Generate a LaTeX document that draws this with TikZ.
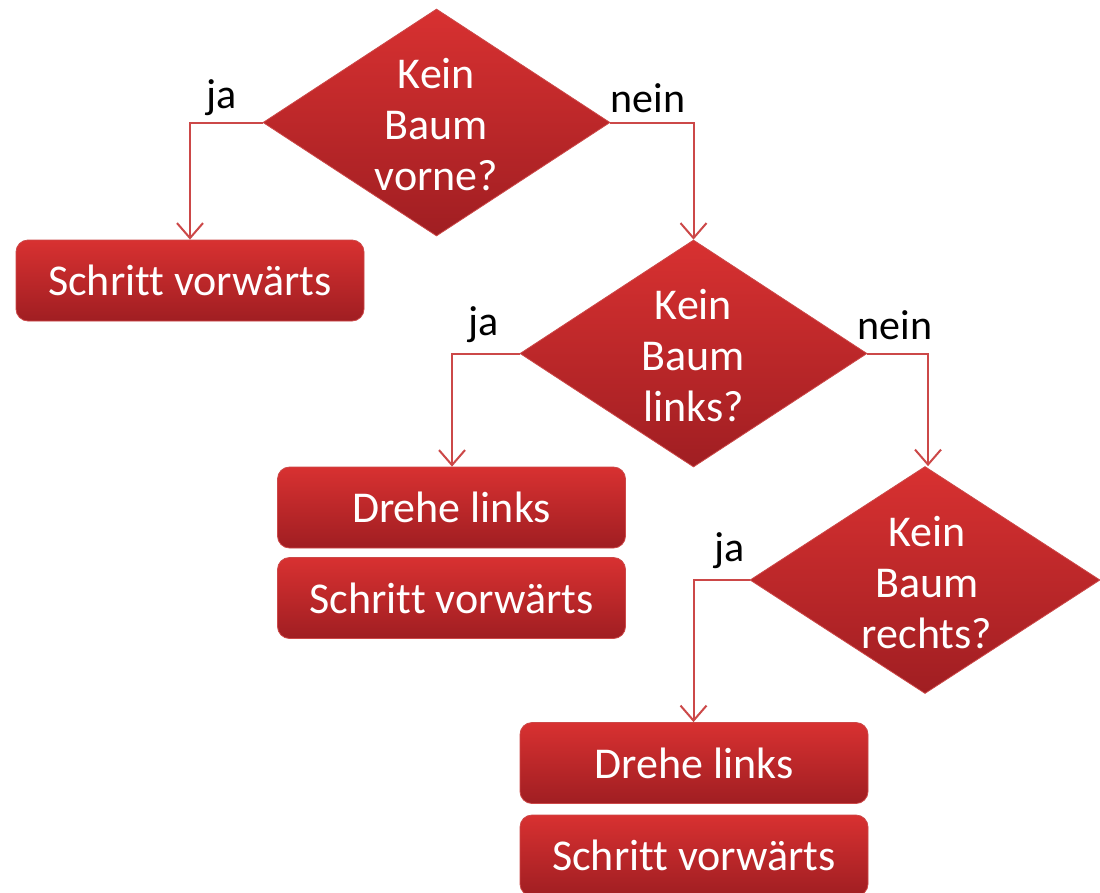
\documentclass[tikz,border=0pt]{standalone}
\usepackage{fontspec}
\setmainfont{Carlito}[Ligatures={NoCommon}]
\usetikzlibrary{shapes.geometric,arrows.meta}
\definecolor{redtop}{RGB}{216,49,49}
\definecolor{redbot}{RGB}{160,30,34}
\definecolor{redline}{RGB}{204,72,72}
\tikzset{
  dia/.style={shape=diamond, minimum width=347pt, minimum height=227pt, inner sep=0pt,
    top color=redtop, bottom color=redbot, draw=redline, line width=0.8pt},
  dtext/.style={align=center, text=white, font=\fontsize{44}{51}\selectfont},
  box/.style={shape=rectangle, rounded corners=12pt, minimum width=348pt, minimum height=81pt,
    top color=redtop, bottom color=redbot, draw=redline, line width=0.8pt,
    text=white, font=\fontsize{44}{51}\selectfont, inner sep=0pt},
  conn/.style={draw=redline, line width=2pt, -{Straight Barb[length=15pt,width=26pt,line width=2pt]}},
  lbl/.style={text=black, font=\fontsize{42}{48}\selectfont, inner sep=0pt}
}
\begin{document}
\begin{tikzpicture}[x=1pt,y=-1pt]
\useasboundingbox (0,0) rectangle (1100,892);
\fill[white] (0,0) rectangle (1100,892);
% decisions
\node[dia] (d1) at (436.5,122.5) {};
\node[dtext] (d1t) at (436.5,125) {Kein\\Baum\\vorne?};
\node[dia] (d2) at (693.5,353.5) {};
\node[dtext] (d2t) at (693.5,356) {Kein\\Baum\\links?};
\node[dia, minimum width=350pt] (d3) at (925,580) {};
\node[dtext] (d3t) at (927,583) {Kein\\Baum\\rechts?};
% boxes
\node[box] (b1) at (190,280.5) {Schritt vorwärts};
\node[box] (b2) at (451.5,507.5) {Drehe links};
\node[box] (b3) at (451.5,598) {Schritt vorwärts};
\node[box] (b4) at (694,763) {Drehe links};
\node[box] (b5) at (694,855.5) {Schritt vorwärts};
% connectors
\coordinate (c1) at (190,122.5);
\coordinate (c2) at (693.5,122.5);
\coordinate (c3) at (452,353.5);
\coordinate (c4) at (928,353.5);
\coordinate (c5) at (693.5,580);
\draw[conn] (d1.west) -- (c1) -- (b1.north -| c1);
\draw[conn] (d1.east) -- (c2) -- (d2.north);
\draw[conn] (d2.west) -- (c3) -- (b2.north -| c3);
\draw[conn] (d2.east) -- (c4) -- (d3.north -| c4);
\draw[conn] (d3.west) -- (c5) -- (b4.north -| c5);
% labels
\node[lbl] (l1) at (222,98) {ja};
\node[lbl] (l2) at (648,98) {nein};
\node[lbl] (l3) at (484,325) {ja};
\node[lbl] (l4) at (895,325) {nein};
\node[lbl] (l5) at (730,551) {ja};
\end{tikzpicture}
\end{document}
